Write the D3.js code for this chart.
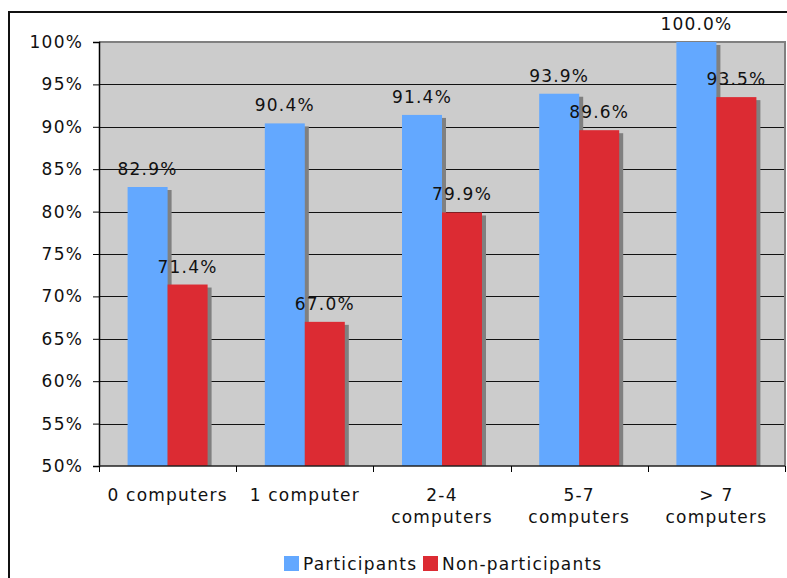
<!DOCTYPE html>
<html>
<head>
<meta charset="utf-8">
<script src="https://cdn.jsdelivr.net/npm/d3@7"></script>
<style>
  html, body { margin: 0; padding: 0; background: #fff; }
  svg { display: block; }
  text { font-family: "DejaVu Sans", Verdana, sans-serif; font-size: 17px; letter-spacing: 1.2px; fill: #111; }
</style>
</head>
<body>
<svg id="chart" width="787" height="578"></svg>
<script>
// Share of students, by number of computers in the home
const categories = ["0 computers", "1 computer", "2-4 computers", "5-7 computers", "> 7 computers"];
const categoryLines = [["0 computers"], ["1 computer"], ["2-4", "computers"], ["5-7", "computers"], ["> 7", "computers"]];
const seriesNames = ["Participants", "Non-participants"];
const participants = [82.9, 90.4, 91.4, 93.9, 100.0];
const nonParticipants = [71.4, 67.0, 79.9, 89.6, 93.5];
const yTicks = [50, 55, 60, 65, 70, 75, 80, 85, 90, 95, 100];

const colors = { "Participants": "#63a8ff", "Non-participants": "#dc2b33" };
const seriesValues = { "Participants": participants, "Non-participants": nonParticipants };

const svg = d3.select("#chart");
const plot = { left: 99, top: 42, right: 785, bottom: 466 };

// outer frame of the chart area
svg.append("rect")
  .attr("x", 9).attr("y", 12).attr("width", 820).attr("height", 620)
  .attr("fill", "#fff").attr("stroke", "#111").attr("stroke-width", 2);

const x0 = d3.scaleBand().domain(categories).range([plot.left, plot.right]).padding(0);
const barBlock = 80;
const x1 = d3.scaleBand().domain(seriesNames)
  .range([(x0.bandwidth() - barBlock) / 2, (x0.bandwidth() + barBlock) / 2]).padding(0);
const y = d3.scaleLinear().domain([50, 100]).range([plot.bottom, plot.top]);

// plot background
svg.append("rect")
  .attr("x", plot.left).attr("y", plot.top)
  .attr("width", plot.right - plot.left).attr("height", plot.bottom - plot.top)
  .attr("fill", "#cccccc");

// horizontal gridlines
svg.append("g").selectAll("line")
  .data(yTicks.filter(d => d > 50 && d < 100))
  .join("line")
  .attr("x1", plot.left).attr("x2", plot.right)
  .attr("y1", d => Math.round(y(d)) + 0.5).attr("y2", d => Math.round(y(d)) + 0.5)
  .attr("stroke", "#111").attr("stroke-width", 1);

// plot border (top / right)
svg.append("path")
  .attr("d", `M${plot.left},${plot.top}H${plot.right}V${plot.bottom}`)
  .attr("fill", "none").attr("stroke", "#808080").attr("stroke-width", 2);

// bars with drop shadows, clipped to the plot
svg.append("clipPath").attr("id", "plotClip")
  .append("rect")
  .attr("x", plot.left).attr("y", plot.top - 10)
  .attr("width", plot.right - plot.left).attr("height", plot.bottom - plot.top + 10);

const bars = svg.append("g").attr("clip-path", "url(#plotClip)");
categories.forEach((cat, i) => {
  seriesNames.forEach(s => {
    const v = seriesValues[s][i];
    const bx = x0(cat) + x1(s);
    bars.append("rect")
      .attr("x", bx + 4).attr("y", y(v) + 3)
      .attr("width", x1.bandwidth()).attr("height", plot.bottom - y(v))
      .attr("fill", "#808080");
    bars.append("rect")
      .attr("x", bx).attr("y", y(v))
      .attr("width", x1.bandwidth()).attr("height", plot.bottom - y(v))
      .attr("fill", colors[s]);
  });
});

// y axis
const yAxis = svg.append("g")
  .attr("transform", `translate(${plot.left},0)`)
  .call(d3.axisLeft(y).tickValues(yTicks).tickFormat(d => d + "%").tickSize(6).tickPadding(10));
yAxis.attr("font-family", null).attr("font-size", null);
yAxis.select(".domain").attr("stroke", "#000").attr("stroke-width", 1.5);
yAxis.selectAll(".tick line").attr("stroke", "#000");

// x axis line and boundary ticks
const boundaries = categories.map(c => x0(c)).concat([x0(categories[categories.length - 1]) + x0.bandwidth()]);
svg.append("line")
  .attr("x1", plot.left).attr("x2", plot.right)
  .attr("y1", plot.bottom).attr("y2", plot.bottom)
  .attr("stroke", "#222").attr("stroke-width", 1.5);
svg.append("g").selectAll("line")
  .data(boundaries)
  .join("line")
  .attr("x1", d => Math.round(d) + 0.5).attr("x2", d => Math.round(d) + 0.5)
  .attr("y1", plot.bottom).attr("y2", plot.bottom + 6)
  .attr("stroke", "#000");

// category labels
const catLabels = svg.append("g").selectAll("text")
  .data(categories)
  .join("text")
  .attr("text-anchor", "middle")
  .attr("transform", d => `translate(${x0(d) + x0.bandwidth() / 2},0)`);
catLabels.each(function(d, i) {
  d3.select(this).selectAll("tspan")
    .data(categoryLines[i])
    .join("tspan")
    .attr("x", 0)
    .attr("y", (t, j) => 501 + j * 22)
    .text(t => t);
});

// value labels
const labels = svg.append("g");
categories.forEach((cat, i) => {
  seriesNames.forEach(s => {
    const v = seriesValues[s][i];
    labels.append("text")
      .attr("text-anchor", "middle")
      .attr("x", x0(cat) + x1(s) + x1.bandwidth() / 2)
      .attr("y", y(v) - 12)
      .text(v.toFixed(1) + "%");
  });
});

// legend
const legendItems = [
  { name: "Participants", x: 284 },
  { name: "Non-participants", x: 423 }
];
const legend = svg.append("g");
legendItems.forEach(item => {
  legend.append("rect")
    .attr("x", item.x).attr("y", 556).attr("width", 15).attr("height", 15)
    .attr("fill", colors[item.name]);
  legend.append("text")
    .attr("x", item.x + 19).attr("y", 570)
    .text(item.name);
});
</script>
</body>
</html>
